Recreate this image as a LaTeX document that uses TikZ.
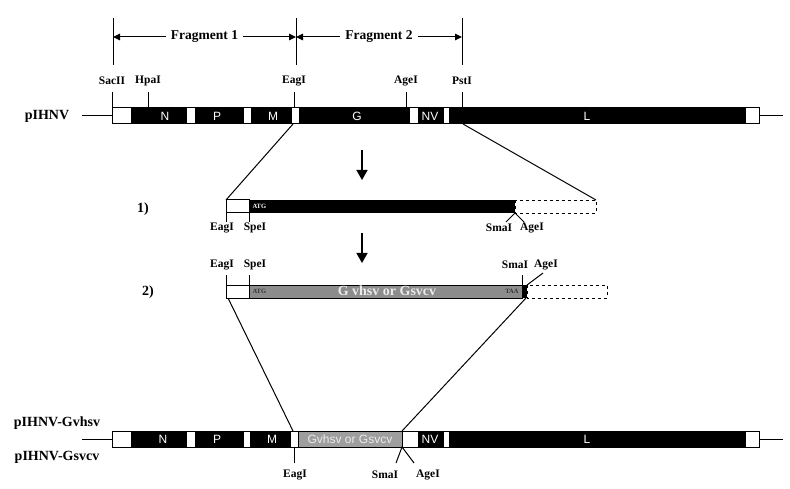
\documentclass[tikz,border=0pt]{standalone}
\usepackage{fontspec}
\setmainfont{Liberation Serif}
\setsansfont{Liberation Sans}
\usetikzlibrary{arrows.meta}
\tikzset{>={Triangle[length=7pt,width=6.5pt]}}
\tikzset{
  site/.style={font=\fontsize{11.5}{13}\selectfont\bfseries, inner sep=0pt},
  plasmid/.style={font=\fontsize{14}{16}\selectfont\bfseries, inner sep=0pt},
  frag/.style={font=\fontsize{13.5}{15}\selectfont\bfseries, fill=white, inner sep=5pt},
  gene/.style={font=\fontsize{12}{14}\selectfont\sffamily, text=white, inner sep=0pt},
  codon/.style={font=\fontsize{6.5}{7}\selectfont\bfseries, inner sep=0pt},
  down/.style={-{Triangle[length=10pt,width=11pt]}, line width=1.5pt},
}
\colorlet{insert}{black!45}
\colorlet{insertB}{black!38}

\begin{document}
\begin{tikzpicture}[x=1pt, y=-1pt, line width=1pt]
\useasboundingbox (0,0) rectangle (790,489);

% fragments
\foreach \x/\n in {113/fa, 296/fb, 462/fc}
  \draw (\x,18) coordinate (\n) -- (\x,65);
\draw[<->] (113,37) -- (296,37) node[midway, frag] (frag1) {Fragment 1};
\draw[<->] (296,37) -- (462,37) node[midway, frag] (frag2) {Fragment 2};

% pIHNV
\node[plasmid] (wt) at (47,116) {pIHNV};
\draw (82,116) -- (112,116);
\draw (759,116) -- (783,116);
\fill (112,108) rectangle (759,124);
\foreach \a/\b in {112/131, 186/195, 243/251, 291/299, 409/418, 443/449, 745/759}
  \filldraw[fill=white] (\a,108) rectangle (\b,124);
\draw (112,108) rectangle (759,124);
\foreach \x/\t in {165/N, 217/P, 273/M, 357/G, 430/NV, 587/L}
  \node[gene] at (\x,116.5) {\t};
\foreach \x/\t in {112/SacII, 148/HpaI, 294/EagI, 406/AgeI, 462/PstI} {
  \draw (\x,92) -- (\x,108);
  \node[site] (s\t) at (\x,81) {\t};
}
\coordinate (wtE) at (293,124);
\coordinate (wtP) at (463,124);

\draw[down] (362,150) -- (362,180);

% 1)
\node[plasmid] (one) at (143,209) {1)};
\filldraw[fill=white] (226,200) rectangle (249,213);
\fill (249,200) rectangle (515,213);
\draw[dashed, line width=0.7pt] (515,200) rectangle (596,213);
\node[codon, text=white, anchor=west] (atg1) at (252,206.5) {ATG};
\coordinate (oneL) at (226,200);
\coordinate (oneR) at (596,200);
\draw (wtE) -- (oneL);
\draw (wtP) -- (oneR);
\draw (226,213) -- (226,222);
\draw (249,213) -- (249,222);
\node[site] (e1) at (222,228) {EagI};
\node[site] (sp1) at (255,228) {SpeI};
\draw (506,222) -- (515,213) -- (524,222);
\node[site] (sm1) at (499,228) {SmaI};
\node[site] (ag1) at (532,228) {AgeI};

\draw[down] (362,233) -- (362,263);

% 2)
\node[plasmid] (two) at (148,292) {2)};
\filldraw[fill=white] (226,285) rectangle (249,298);
\filldraw[fill=insert] (249,285) rectangle (522,298);
\fill (522,285) rectangle (527,298);
\draw[dashed, line width=0.7pt] (527,285) rectangle (607,298);
\node[codon, text=black!80, anchor=west] (atg2) at (252,291.5) {ATG};
\node[codon, text=black!80, anchor=east] (taa2) at (519,291.5) {TAA};
\node[font=\fontsize{14}{16}\selectfont\bfseries, text=black!8, inner sep=0pt] (gins) at (387,291) {G vhsv or Gsvcv};
\draw (226,285) -- (226,275);
\draw (249,285) -- (249,275);
\draw (522,285) -- (522,275);
\draw (527,285) -- (543,273);
\node[site] (e2) at (222,265) {EagI};
\node[site] (sp2) at (255,265) {SpeI};
\node[site] (sm2) at (515,265) {SmaI};
\node[site] (ag2) at (546,265) {AgeI};
\coordinate (twoL) at (228,298);
\coordinate (twoR) at (526,298);

% pIHNV-Gvhsv / pIHNV-Gsvcv
\node[plasmid] (rv1) at (57,423) {pIHNV-Gvhsv};
\node[plasmid] (rv2) at (57,457) {pIHNV-Gsvcv};
\draw (82,439) -- (112,439);
\draw (759,439) -- (783,439);
\fill (112,431) rectangle (759,447);
\foreach \a/\b in {112/131, 186/195, 243/250, 290/298, 402/418, 443/449, 745/759}
  \filldraw[fill=white] (\a,431) rectangle (\b,447);
\filldraw[fill=insertB] (298,431) rectangle (402,447);
\draw (112,431) rectangle (759,447);
\foreach \x/\t in {163/N, 217/P, 272/M, 430/NV, 587/L}
  \node[gene] at (\x,439.5) {\t};
\node[gene, text=black!8] (gbot) at (350,439.5) {Gvhsv or Gsvcv};
\coordinate (rvE) at (293,431);
\coordinate (rvS) at (402,431);
\draw (twoL) -- (rvE);
\draw (twoR) -- (rvS);
\draw (294,447) -- (294,463);
\draw (396,463) -- (402,447) -- (414,463);
\node[site] (e3) at (295,475) {EagI};
\node[site] (sm3) at (385,475) {SmaI};
\node[site] (ag3) at (428,475) {AgeI};
\end{tikzpicture}
\end{document}
